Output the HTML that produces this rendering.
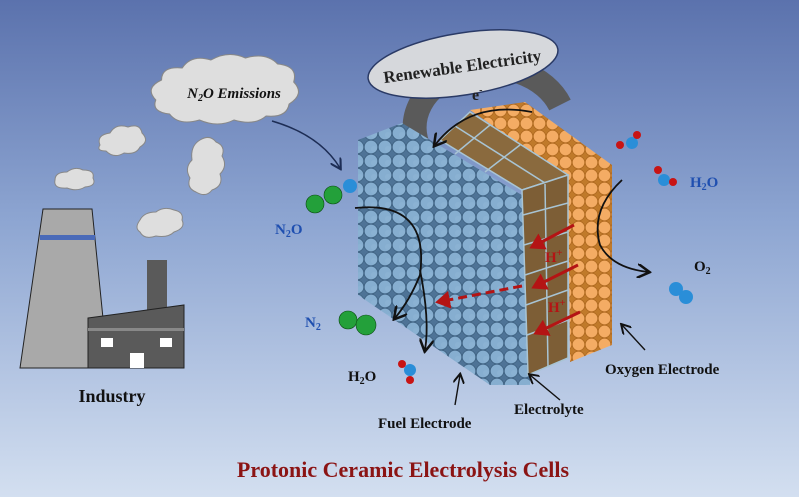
<!DOCTYPE html>
<html><head><meta charset="utf-8"><style>
html,body{margin:0;padding:0;width:799px;height:497px;overflow:hidden}
svg{display:block}
text{font-family:"Liberation Serif",serif;font-weight:bold}
</style></head><body>
<svg width="799" height="497" viewBox="0 0 799 497" xmlns="http://www.w3.org/2000/svg">
<defs>
<linearGradient id="bg" x1="0" y1="0" x2="0" y2="1">
<stop offset="0" stop-color="#5b72ad"/>
<stop offset="0.45" stop-color="#8ea6d2"/>
<stop offset="1" stop-color="#d3dff0"/>
</linearGradient>
<pattern id="blue" width="14" height="14" patternUnits="userSpaceOnUse">
<rect width="14" height="14" fill="#4e7396"/>
<circle cx="7" cy="7" r="6.8" fill="#86aed0" stroke="#3f6282" stroke-width="0.9"/>
<circle cx="10" cy="9" r="3" fill="#8fb6d6" opacity="0.5"/>
</pattern>
<pattern id="orange" width="13" height="13" patternUnits="userSpaceOnUse">
<rect width="13" height="13" fill="#c07a2a"/>
<circle cx="6.5" cy="6.5" r="6.3" fill="#f4ac64" stroke="#b06a20" stroke-width="0.9"/>
</pattern>
<marker id="ah" markerWidth="8" markerHeight="8" refX="6" refY="4" orient="auto"><path d="M0,0 L7,4 L0,8" fill="none" stroke="#111" stroke-width="1.4"/></marker>
<marker id="ahb" markerWidth="8" markerHeight="8" refX="6" refY="4" orient="auto"><path d="M0,0 L7,4 L0,8" fill="none" stroke="#1d2d55" stroke-width="1.4"/></marker>
<marker id="ahr" markerWidth="6" markerHeight="6" refX="4" refY="3" orient="auto"><path d="M0,0 L5,3 L0,6 Z" fill="#b41414"/></marker>
</defs>
<rect width="799" height="497" fill="url(#bg)"/>

<!-- clouds -->
<g fill="#dedede" stroke="#888" stroke-width="1">
<path transform="translate(150,0) scale(1.15,1) translate(-150,0)" d="M155,100 q-10,-12 5,-20 q0,-14 18,-12 q8,-14 25,-8 q15,-10 30,-2 q18,-6 28,6 q18,2 14,18 q10,12 -4,22 q-2,14 -20,12 q-10,10 -28,4 q-14,8 -30,0 q-18,6 -26,-6 q-16,-2 -12,-14z"/>
<path d="M100,145 q-4,-10 10,-12 q6,-10 18,-6 q12,-4 14,6 q8,8 -2,14 q-4,8 -16,6 q-10,6 -18,-2 q-10,0 -6,-6z"/>
<path d="M55,180 q0,-8 12,-8 q8,-6 16,-2 q12,0 10,8 q4,8 -8,9 q-8,5 -18,1 q-14,1 -12,-8z"/>
<path d="M200,140 q10,-6 16,2 q10,4 6,14 q6,10 -2,18 q4,12 -8,16 q-6,8 -16,2 q-10,-4 -6,-14 q-6,-10 2,-18 q-2,-14 8,-20z"/>
<path d="M140,220 q4,-8 16,-8 q8,-6 18,-2 q10,2 8,10 q4,8 -8,12 q-6,6 -18,4 q-12,4 -16,-4 q-6,-4 0,-12z"/>
</g>
<text x="234" y="98" font-size="15" font-style="italic" text-anchor="middle" fill="#111">N<tspan font-size="10" dy="3">2</tspan><tspan dy="-3">O Emissions</tspan></text>
<path d="M272,121 Q320,135 340,168" fill="none" stroke="#1d2d55" stroke-width="1.5" marker-end="url(#ahb)"/>

<!-- industry -->
<polygon points="43,209 92,209 108,368 20,368" fill="#a9a9a9" stroke="#222" stroke-width="1"/>
<rect x="40" y="235" width="55" height="5" fill="#4a6ab8"/>
<rect x="147" y="260" width="20" height="50" fill="#5a5a5a"/>
<polygon points="88,318 184,305 184,368 88,368" fill="#5a5a5a" stroke="#222" stroke-width="1"/>
<rect x="88" y="328" width="96" height="3" fill="#888"/>
<rect x="101" y="338" width="12" height="9" fill="#fff"/>
<rect x="160" y="338" width="12" height="9" fill="#fff"/>
<rect x="130" y="353" width="14" height="15" fill="#fff"/>
<text x="112" y="402" font-size="18" text-anchor="middle" fill="#111">Industry</text>

<!-- gray ring -->
<path d="M420,150 A75,60 0 0 1 560,105" fill="none" stroke="#5a5a5a" stroke-width="24"/>

<!-- orange electrode -->
<polygon points="470,110 525,102 612,165 612,345 570,362 568,178" fill="url(#orange)"/>
<!-- blue electrode -->
<polygon points="358,140 402,123 530,200 530,385 490,385 358,295" fill="url(#blue)"/>

<!-- electrolyte -->
<polygon points="440,140 470,112 568,175 522,190" fill="#8a6a3e" stroke="#a8c4d4" stroke-width="1.5"/>
<polygon points="522,190 568,175 568,358 528,375" fill="#7d5e36" stroke="#a8c4d4" stroke-width="1.5"/>
<g stroke="#a8c4d4" stroke-width="1.5">
<line x1="545" y1="184" x2="548" y2="367"/>
<line x1="455" y1="126" x2="545" y2="183"/>
<line x1="490" y1="125" x2="455" y2="154"/>
<line x1="520" y1="145" x2="485" y2="172"/>
<line x1="523" y1="215" x2="568" y2="203"/>
<line x1="524" y1="245" x2="568" y2="232"/>
<line x1="525" y1="275" x2="568" y2="261"/>
<line x1="526" y1="305" x2="568" y2="290"/>
<line x1="527" y1="335" x2="568" y2="320"/>
</g>

<!-- ellipse -->
<ellipse cx="463" cy="64" rx="96" ry="31" transform="rotate(-9 463 64)" fill="#d6d8dc" stroke="#2a3a66" stroke-width="1.5"/>
<text x="463" y="72" font-size="17" text-anchor="middle" fill="#222" transform="rotate(-8 463 72)">Renewable Electricity</text>
<text x="472" y="100" font-size="16" fill="#222">e<tspan font-size="10" dy="-7">-</tspan></text>
<path d="M532,112 Q470,100 435,145" fill="none" stroke="#111" stroke-width="1.8" marker-end="url(#ah)"/>

<!-- red arrows -->
<g stroke="#b41414" stroke-width="3" fill="none">
<line x1="574" y1="225" x2="532" y2="247" marker-end="url(#ahr)"/>
<line x1="578" y1="265" x2="534" y2="287" marker-end="url(#ahr)"/>
<line x1="580" y1="312" x2="536" y2="333" marker-end="url(#ahr)"/>
<line x1="522" y1="286" x2="438" y2="302" stroke-dasharray="9,5" marker-end="url(#ahr)"/>
</g>
<text x="545" y="262" font-size="15" fill="#b41414">H<tspan font-size="10" dy="-6">+</tspan></text>
<text x="548" y="312" font-size="15" fill="#b41414">H<tspan font-size="10" dy="-6">+</tspan></text>

<!-- black process arrows -->
<path d="M355,208 Q430,200 420,275 Q410,300 395,318" fill="none" stroke="#111" stroke-width="1.8" marker-end="url(#ah)"/>
<path d="M420,270 Q430,320 425,350" fill="none" stroke="#111" stroke-width="1.8" marker-end="url(#ah)"/>
<path d="M622,180 Q590,210 600,245 Q612,268 648,272" fill="none" stroke="#111" stroke-width="1.8" marker-end="url(#ah)"/>
<g stroke="#111" stroke-width="1.4" fill="none">
<line x1="455" y1="405" x2="460" y2="375" marker-end="url(#ah)"/>
<line x1="560" y1="400" x2="530" y2="375" marker-end="url(#ah)"/>
<line x1="645" y1="350" x2="622" y2="325" marker-end="url(#ah)"/>
</g>

<!-- molecules -->
<g stroke="#0a4a10" stroke-width="0.6">
<circle cx="315" cy="204" r="9" fill="#23a03a"/>
<circle cx="333" cy="195" r="9" fill="#23a03a"/>
<circle cx="348" cy="320" r="9" fill="#23a03a"/>
<circle cx="366" cy="325" r="10" fill="#23a03a"/>
</g>
<circle cx="350" cy="186" r="7" fill="#2a8ed8"/>
<g>
<circle cx="410" cy="370" r="6" fill="#2a8ed8"/><circle cx="402" cy="364" r="4" fill="#c81414"/><circle cx="410" cy="380" r="4" fill="#c81414"/>
<circle cx="632" cy="143" r="6" fill="#2a8ed8"/><circle cx="620" cy="145" r="4" fill="#c81414"/><circle cx="637" cy="135" r="4" fill="#c81414"/>
<circle cx="664" cy="180" r="6" fill="#2a8ed8"/><circle cx="658" cy="170" r="4" fill="#c81414"/><circle cx="673" cy="182" r="4" fill="#c81414"/>
<circle cx="676" cy="289" r="7" fill="#2a8ed8"/><circle cx="686" cy="297" r="7" fill="#2a8ed8"/>
</g>

<!-- labels -->
<text x="275" y="234" font-size="15" fill="#1f4fb0">N<tspan font-size="10" dy="3">2</tspan><tspan dy="-3">O</tspan></text>
<text x="305" y="327" font-size="15" fill="#1f4fb0">N<tspan font-size="10" dy="3">2</tspan></text>
<text x="348" y="381" font-size="15" fill="#111">H<tspan font-size="10" dy="3">2</tspan><tspan dy="-3">O</tspan></text>
<text x="690" y="187" font-size="15" fill="#1f4fb0">H<tspan font-size="10" dy="3">2</tspan><tspan dy="-3">O</tspan></text>
<text x="694" y="271" font-size="15" fill="#111">O<tspan font-size="10" dy="3">2</tspan></text>
<text x="605" y="374" font-size="15" fill="#111">Oxygen Electrode</text>
<text x="378" y="428" font-size="15" fill="#111">Fuel Electrode</text>
<text x="514" y="414" font-size="15" fill="#111">Electrolyte</text>
<text x="403" y="477" font-size="22" text-anchor="middle" fill="#8b1414">Protonic Ceramic Electrolysis Cells</text>
</svg>
</body></html>
